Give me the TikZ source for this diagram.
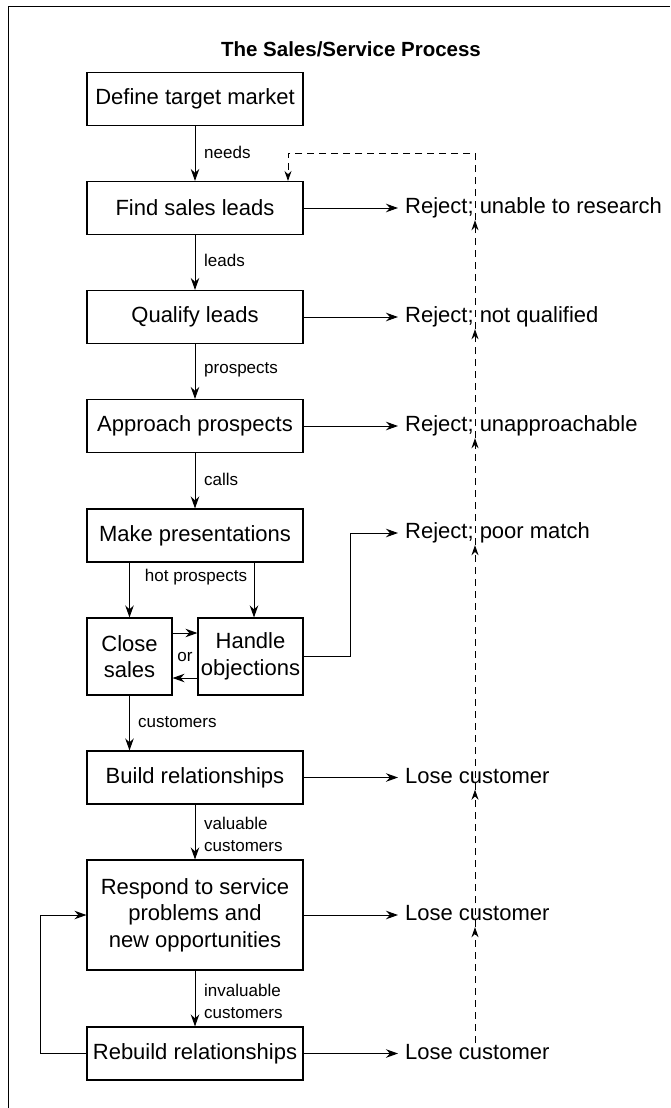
\documentclass[tikz,border=0pt]{standalone}
\usepackage{fontspec}
\setmainfont{Liberation Sans}
\usetikzlibrary{arrows.meta}

\begin{document}
\begin{tikzpicture}[x=1pt,y=-1pt,
  box/.style={draw,line width=1.1pt,minimum width=216pt,minimum height=53pt,inner sep=3pt,align=center,font=\fontsize{22}{26.5}\selectfont},
  outlbl/.style={anchor=west,inner xsep=7pt,inner ysep=1.5pt,text height=16pt,text depth=5pt,font=\fontsize{22}{26.5}\selectfont},
  flowlbl/.style={anchor=west,inner sep=0pt,align=left,font=\fontsize{17}{22}\selectfont},
  arr/.style={-{Stealth[length=12pt,width=8.5pt]},line width=1pt},
  back/.style={-{Stealth[length=10pt,width=7pt]},dash pattern=on 7pt off 5pt,line width=0.9pt}]
\useasboundingbox (0,0) rectangle (670,1108);
\draw[line width=1pt] (8,1108) -- (8,7) -- (670,7);
\node[font=\bfseries\fontsize{20.5}{24}\selectfont] (title) at (351,49) {The Sales/Service Process};

% main column
\node[box] (define) at (195,99) {Define target market};
\node[box] (find) at (195,208) {Find sales leads};
\node[box] (qualify) at (195,317) {Qualify leads};
\node[box] (approach) at (195,426) {Approach prospects};
\node[box] (present) at (195,535.5) {Make presentations};
\node[box,minimum width=85pt,minimum height=77pt] (close) at (129.5,656.5) {Close\\sales};
\node[box,minimum width=105pt,minimum height=77pt] (handle) at (250.5,656.5) {Handle\\objections};
\node[box] (build) at (195,777.5) {Build relationships};
\node[box,minimum height=110pt] (respond) at (195,915) {Respond to service\\problems and\\new opportunities};
\node[box] (rebuild) at (195,1053.5) {Rebuild relationships};

% outcomes
\node[outlbl] (rej1) at (398,208) {Reject; unable to research};
\node[outlbl] (rej2) at (398,317) {Reject; not qualified};
\node[outlbl] (rej3) at (398,426) {Reject; unapproachable};
\node[outlbl] (rej4) at (398,533) {Reject; poor match};
\node[outlbl] (lose1) at (398,777.5) {Lose customer};
\node[outlbl] (lose2) at (398,915) {Lose customer};
\node[outlbl] (lose3) at (398,1053.5) {Lose customer};

% flow labels
\node[flowlbl] (needs) at (204,152) {needs};
\node[flowlbl] (leads) at (204,260) {leads};
\node[flowlbl] (prosp) at (204,370) {prospects};
\node[flowlbl] (calls) at (204,479) {calls};
\node[flowlbl,anchor=center] (hot) at (196,577) {hot prospects};
\node[flowlbl,anchor=center] (or) at (185,657) {or};
\node[flowlbl] (cust) at (138,722) {customers};
\node[flowlbl] (valcust) at (204,834) {valuable\\customers};
\node[flowlbl] (invalcust) at (204,1001) {invaluable\\customers};

\coordinate (top1) at (475,153);
\coordinate (top2) at (288,153);

% forward flow
\draw[arr] (define) -- (find);
\draw[arr] (find) -- (qualify);
\draw[arr] (qualify) -- (approach);
\draw[arr] (approach) -- (present);
\draw[arr] (present.south -| close) -- (close);
\draw[arr] ([xshift=3.5pt]present.south -| handle) -- ([xshift=3.5pt]handle.north);
\draw[arr] ([yshift=23.5pt]close.east) -- ([yshift=23.5pt]handle.west);
\draw[arr] ([yshift=-21.5pt]handle.west) -- ([yshift=-21.5pt]close.east);
\draw[arr] (close.south) -- (close.south |- build.north);
\draw[arr] (build) -- (respond);
\draw[arr] (respond) -- (rebuild);
\draw[arr] (rebuild.west) -- ++(-46,0) |- (respond.west);

% exits
\draw[arr] (find.east) -- (rej1.west);
\draw[arr] (qualify.east) -- (rej2.west);
\draw[arr] (approach.east) -- (rej3.west);
\draw[arr] (handle.east) -- ++(47,0) |- (rej4.west);
\draw[arr] (build.east) -- (lose1.west);
\draw[arr] (respond.east) -- (lose2.west);
\draw[arr] (rebuild.east) -- (lose3.west);

% dashed return path
\draw[back] ([yshift=11pt]lose3.center -| top1) -- (lose2.south -| top1);
\draw[back] (lose2.south -| top1) -- (lose1.south -| top1);
\draw[back] (lose1.south -| top1) -- (rej4.south -| top1);
\draw[back] (rej4.south -| top1) -- (rej3.south -| top1);
\draw[back] (rej3.south -| top1) -- (rej2.south -| top1);
\draw[back] (rej2.south -| top1) -- (rej1.south -| top1);
\draw[back] (rej1.south -| top1) -- (top1) -- (top2) -- (find.north -| top2);
\end{tikzpicture}
\end{document}
